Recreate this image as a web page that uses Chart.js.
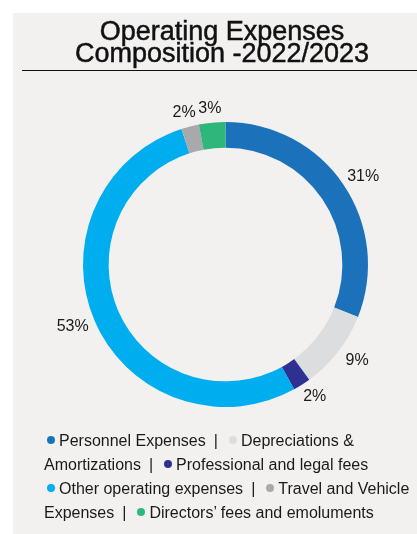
<!DOCTYPE html>
<html>
<head>
<meta charset="utf-8">
<title>Operating Expenses Composition</title>
<script src="https://cdn.jsdelivr.net/npm/chart.js@4/dist/chart.umd.min.js"></script>
<style>
  html, body { margin: 0; padding: 0; background: #ffffff; }
  #wrap { position: relative; width: 417px; height: 534px; overflow: hidden; }
  #panel { position: absolute; left: 13px; top: 13px; right: 0; bottom: 0; background: #f2f1f0; }
  #chart { position: absolute; left: 0; top: 0; }
  #title {
    position: absolute; left: 27px; top: 20px; width: 390px;
    font-family: "Liberation Sans", Arial, sans-serif; font-size: 27px; line-height: 22px;
    color: #111; text-align: center; -webkit-text-stroke: 0.5px #111;
  }
  #rule { position: absolute; left: 22px; right: 0; top: 70px; height: 1px; background: #111; }
  #legend {
    position: absolute; left: 44px; top: 429px;
    font-family: "Liberation Sans", Arial, sans-serif; font-size: 16px; line-height: 24px;
    color: #1a1a1a; white-space: nowrap;
  }
  #legend .dot {
    display: inline-block; width: 8px; height: 8px; border-radius: 50%;
    margin: 0 4px 2px 1px;
  }
  #legend .first { margin-left: 3px; }
  #legend .sep { margin: 0 10px 0 8px; }
</style>
</head>
<body>
<div id="wrap">
  <div id="panel"></div>
  <canvas id="chart" width="417" height="534"></canvas>
  <div id="title">Operating Expenses<br>Composition -2022/2023</div>
  <div id="rule"></div>
  <div id="legend"></div>
</div>
<script>
// expense categories and their share of the total (%)
const categories = [
  'Personnel Expenses',
  'Depreciations & Amortizations',
  'Professional and legal fees',
  'Other operating expenses',
  'Travel and Vehicle Expenses',
  'Directors\u2019 fees and emoluments'
];
const shares = [31, 9, 2, 53, 2, 3];
const colors = ['#1c72ba', '#dcddde', '#2e3192', '#00aeef', '#a7a9ac', '#2fb67a'];

// legend rows, split by hand the way the report wraps them
const legendRows = [
  [[0, 'Personnel Expenses'], [1, 'Depreciations &']],
  [[null, 'Amortizations'], [2, 'Professional and legal fees']],
  [[3, 'Other operating expenses'], [4, 'Travel and Vehicle']],
  [[null, 'Expenses'], [5, 'Directors\u2019 fees and emoluments']]
];

// percentage labels just outside the ring (a bit wider at the sides than at the top)
const outsideLabels = {
  id: 'outsideLabels',
  afterDatasetsDraw(chart) {
    const ctx = chart.ctx;
    const meta = chart.getDatasetMeta(0);
    const values = chart.data.datasets[0].data;
    const total = values.reduce((a, b) => a + b, 0);
    ctx.save();
    ctx.font = '16px "Liberation Sans", Arial, sans-serif';
    ctx.fillStyle = '#1a1a1a';
    ctx.textAlign = 'center';
    ctx.textBaseline = 'middle';
    meta.data.forEach((arc, i) => {
      const p = arc.getProps(['x', 'y', 'startAngle', 'endAngle', 'outerRadius'], true);
      const mid = (p.startAngle + p.endAngle) / 2;
      const x = p.x + Math.cos(mid) * (p.outerRadius + 24);
      const y = p.y + Math.sin(mid) * (p.outerRadius + 14);
      ctx.fillText(Math.round(values[i] / total * 100) + '%', x, y);
    });
    ctx.restore();
  }
};

const ctx = document.getElementById('chart').getContext('2d');
const chart = new Chart(ctx, {
  type: 'doughnut',
  data: {
    labels: categories,
    datasets: [{
      data: shares,
      backgroundColor: colors,
      borderWidth: 0,
      hoverOffset: 0
    }]
  },
  options: {
    responsive: false,
    animation: false,
    cutout: '82%',
    layout: { padding: { left: 83, right: 49, top: 122, bottom: 127 } },
    plugins: {
      legend: { display: false },
      title: { display: false },
      tooltip: { enabled: false }
    }
  },
  plugins: [outsideLabels]
});

// html legend built from the chart's own labels and colours
const legendEl = document.getElementById('legend');
legendRows.forEach((row) => {
  const line = document.createElement('div');
  row.forEach(([idx, text], j) => {
    if (j > 0) {
      const sep = document.createElement('span');
      sep.className = 'sep';
      sep.textContent = '|';
      line.appendChild(sep);
    }
    if (idx !== null) {
      const dot = document.createElement('span');
      dot.className = 'dot' + (j === 0 ? ' first' : '');
      dot.style.background = chart.data.datasets[0].backgroundColor[idx];
      line.appendChild(dot);
    }
    line.appendChild(document.createTextNode(text));
  });
  legendEl.appendChild(line);
});
</script>
</body>
</html>
